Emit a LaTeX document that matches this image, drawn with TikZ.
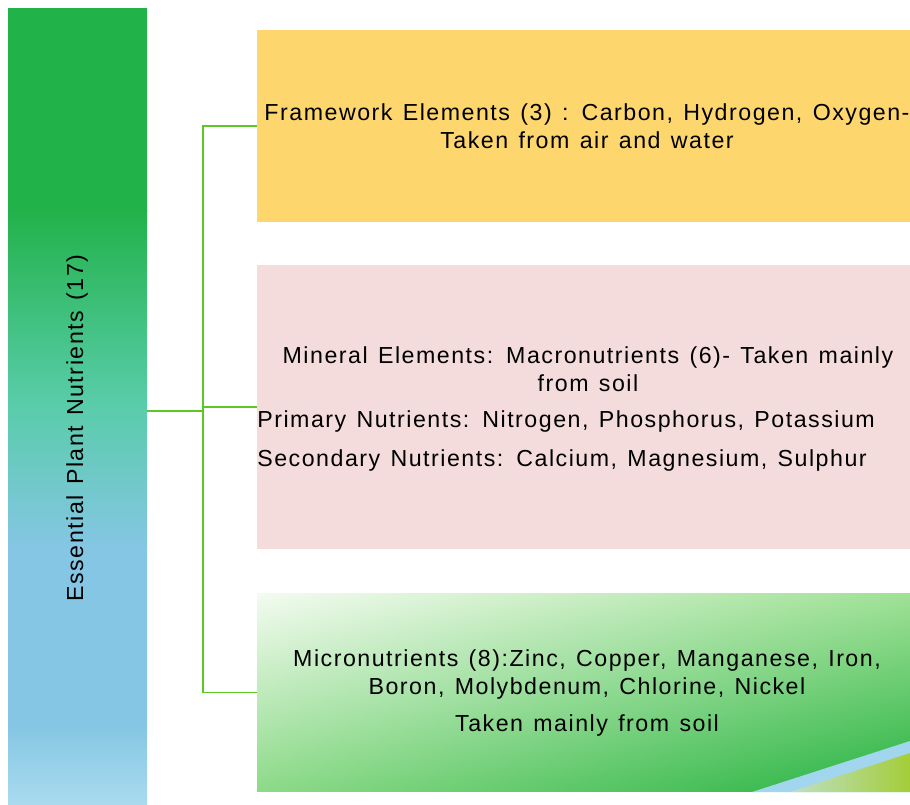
\documentclass[tikz,border=0pt]{standalone}
\usepackage{fontspec}
\setmainfont{Liberation Sans}
\newfontfamily\labelfont{Liberation Sans}[LetterSpace=6.5, WordSpace=1.3]
\usetikzlibrary{positioning, shadings}
\definecolor{bargreen}{RGB}{34,178,74}
\definecolor{barteal}{RGB}{88,204,168}
\definecolor{barblue}{RGB}{132,198,227}
\definecolor{barpale}{RGB}{170,219,239}
\definecolor{frameyellow}{RGB}{253,214,110}
\definecolor{mineralpink}{RGB}{244,220,220}
\definecolor{microlight}{RGB}{243,251,240}
\definecolor{microtr}{RGB}{160,225,150}
\definecolor{microbl}{RGB}{140,218,136}
\definecolor{microdark}{RGB}{38,178,66}
\definecolor{linkgreen}{RGB}{92,200,40}
\definecolor{swooshblue}{RGB}{162,214,238}
\definecolor{swooshlime}{RGB}{164,205,56}

\begin{document}
\begin{tikzpicture}[x=0.02cm, y=-0.02cm,
    font=\labelfont\fontsize{13.2}{16}\selectfont,
    box/.style={rectangle, inner sep=0pt, minimum width=13.06cm},
    link/.style={draw=linkgreen, line width=1.1pt},
    txt/.style={inner sep=0pt, align=center, text=black}]
  \useasboundingbox (0,0) rectangle (910,805);

  % Batang kiri dengan gradasi warna
  \foreach \ya/\yb/\ca/\cb in {8/211/bargreen/bargreen, 210/401/bargreen/barteal,
      400/546/barteal/barblue, 545/726/barblue/barblue, 725/805/barblue/barpale} {
    \shade[top color=\ca, bottom color=\cb] (8,\ya) rectangle (147,\yb);
  }
  \node[inner sep=0pt, minimum width=2.78cm, minimum height=15.94cm] (bar) at (77.5,406.5) {};
  \node[txt, rotate=90] (barlabel) at (77,428) {Essential Plant Nutrients (17)};

  % Kotak-kotak kelompok unsur
  \node[box, minimum height=3.84cm, fill=frameyellow] (frame) at (583.5,126) {};
  \node[box, minimum height=5.68cm, fill=mineralpink] (mineral) at (583.5,407) {};
  \node[box, minimum height=3.98cm, upper left=microlight, upper right=microtr,
    lower left=microbl, lower right=microdark] (micro) at (583.5,692.5) {};

  % Hiasan sudut kanan bawah
  \fill[swooshblue] (752,792) -- (910,741) -- (910,792) -- cycle;
  \shade[left color=swooshlime!35!swooshblue!70!white, right color=swooshlime]
    (790,792) -- (910,753) -- (910,792) -- cycle;

  % Teks dalam kotak
  \node[txt] (frametext) at (587,126)
    {Framework Elements (3) : Carbon, Hydrogen, Oxygen-\\Taken from air and water};
  \node[txt] (mineraltext) at (588,369)
    {Mineral Elements: Macronutrients (6)- Taken mainly\\from soil};
  \node[txt, align=left, anchor=west] (macrotext) at (257,441)
    {Primary Nutrients: Nitrogen, Phosphorus, Potassium\\[6pt]Secondary Nutrients: Calcium, Magnesium, Sulphur};
  \node[txt] (microtext) at (587,693)
    {Micronutrients (8):Zinc, Copper, Manganese, Iron,\\Boron, Molybdenum, Chlorine, Nickel\\[5pt]Taken mainly from soil};

  % Garis penghubung
  \coordinate (spine) at (203,406);
  \draw[link] ([yshift=-0.09cm]bar.east) coordinate (bartip) -- (bartip -| spine);
  \draw[link] (frame.west) -| (spine) |- (micro.west);
  \draw[link] (spine |- mineral.west) -- (mineral.west);
\end{tikzpicture}
\end{document}
